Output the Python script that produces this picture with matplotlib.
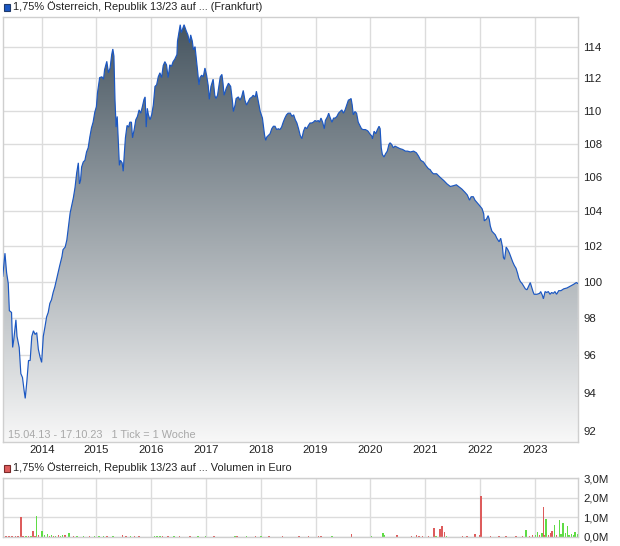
import numpy as np
import matplotlib
matplotlib.use("Agg")
import matplotlib.pyplot as plt
import matplotlib.dates as mdates
from matplotlib.patches import Rectangle
from matplotlib.ticker import FixedLocator, NullLocator, FixedFormatter
import datetime as dt

plt.rcParams['font.family'] = ['Liberation Sans', 'DejaVu Sans']

# ---------------- data (decimal years / prices) ----------------
price_t = [
    2013.29, 2013.33, 2013.36, 2013.39, 2013.41, 2013.45, 2013.47, 2013.49, 2013.53, 2013.55,
    2013.59, 2013.62, 2013.65, 2013.68, 2013.70, 2013.73, 2013.76, 2013.79, 2013.82, 2013.85,
    2013.88, 2013.91, 2013.94, 2013.97, 2014.00, 2014.03, 2014.06, 2014.09, 2014.12, 2014.15,
    2014.18, 2014.21, 2014.24, 2014.27, 2014.30, 2014.33, 2014.37, 2014.39, 2014.43, 2014.46,
    2014.49, 2014.52, 2014.55, 2014.58, 2014.61, 2014.64, 2014.67, 2014.69, 2014.71, 2014.73,
    2014.76, 2014.79, 2014.82, 2014.85, 2014.88, 2014.91, 2014.94, 2014.97, 2015.00, 2015.02,
    2015.05, 2015.06, 2015.10, 2015.13, 2015.15, 2015.19, 2015.22, 2015.25, 2015.28, 2015.30,
    2015.32, 2015.34, 2015.36, 2015.38, 2015.40, 2015.42, 2015.44, 2015.47, 2015.49, 2015.51,
    2015.53, 2015.56, 2015.59, 2015.61, 2015.64, 2015.66, 2015.69, 2015.72, 2015.75, 2015.78,
    2015.81, 2015.84, 2015.87, 2015.89, 2015.91, 2015.93, 2015.95, 2015.98, 2016.01, 2016.04,
    2016.07, 2016.10, 2016.13, 2016.16, 2016.19, 2016.22, 2016.25, 2016.28, 2016.31, 2016.34,
    2016.37, 2016.40, 2016.43, 2016.47, 2016.48, 2016.51, 2016.53, 2016.55, 2016.58, 2016.60,
    2016.64, 2016.67, 2016.70, 2016.72, 2016.75, 2016.77, 2016.80, 2016.83, 2016.85, 2016.87,
    2016.89, 2016.92, 2016.95, 2016.98, 2017.01, 2017.04, 2017.06, 2017.09, 2017.13, 2017.16,
    2017.18, 2017.21, 2017.26, 2017.29, 2017.31, 2017.33, 2017.37, 2017.41, 2017.45, 2017.48,
    2017.50, 2017.53, 2017.55, 2017.59, 2017.62, 2017.65, 2017.68, 2017.71, 2017.74, 2017.77,
    2017.80, 2017.84, 2017.86, 2017.90, 2017.92, 2017.94, 2017.97, 2017.99, 2018.03, 2018.05,
    2018.07, 2018.09, 2018.11, 2018.14, 2018.17, 2018.20, 2018.23, 2018.26, 2018.29, 2018.32,
    2018.35, 2018.38, 2018.41, 2018.44, 2018.47, 2018.50, 2018.54, 2018.57, 2018.60, 2018.63,
    2018.66, 2018.69, 2018.72, 2018.75, 2018.78, 2018.81, 2018.84, 2018.87, 2018.90, 2018.93,
    2018.96, 2018.99, 2019.02, 2019.05, 2019.07, 2019.10, 2019.13, 2019.16, 2019.18, 2019.22,
    2019.24, 2019.27, 2019.30, 2019.33, 2019.36, 2019.39, 2019.42, 2019.45, 2019.48, 2019.51,
    2019.54, 2019.57, 2019.60, 2019.63, 2019.65, 2019.67, 2019.69, 2019.72, 2019.75, 2019.78,
    2019.81, 2019.84, 2019.87, 2019.91, 2019.94, 2019.96, 2019.99, 2020.03, 2020.04, 2020.07,
    2020.10, 2020.13, 2020.16, 2020.18, 2020.20, 2020.22, 2020.25, 2020.28, 2020.31, 2020.34,
    2020.36, 2020.39, 2020.42, 2020.45, 2020.48, 2020.51, 2020.54, 2020.59, 2020.64, 2020.68,
    2020.73, 2020.79, 2020.84, 2020.88, 2020.92, 2020.97, 2021.01, 2021.06, 2021.09, 2021.12,
    2021.15, 2021.21, 2021.27, 2021.34, 2021.40, 2021.46, 2021.52, 2021.57, 2021.61, 2021.67,
    2021.73, 2021.77, 2021.81, 2021.84, 2021.88, 2021.91, 2021.95, 2021.99, 2022.04, 2022.07,
    2022.08, 2022.12, 2022.15, 2022.17, 2022.19, 2022.22, 2022.25, 2022.28, 2022.31, 2022.35,
    2022.38, 2022.41, 2022.43, 2022.45, 2022.48, 2022.51, 2022.54, 2022.57, 2022.60, 2022.63,
    2022.66, 2022.69, 2022.71, 2022.74, 2022.77, 2022.80, 2022.83, 2022.86, 2022.89, 2022.92,
    2022.94, 2022.97, 2022.99, 2023.04, 2023.09, 2023.11, 2023.14, 2023.16, 2023.19, 2023.22,
    2023.25, 2023.28, 2023.31, 2023.34, 2023.37, 2023.40, 2023.44, 2023.48, 2023.53, 2023.59,
    2023.65, 2023.71, 2023.76, 2023.79,
]
price_v = [
    100.3, 101.6, 100.5, 99.9, 98.4, 98.3, 96.4, 96.8, 97.9, 97.0,
    96.4, 95.0, 94.8, 94.1, 93.7, 94.6, 95.7, 95.7, 97.0, 97.3,
    97.1, 97.2, 96.3, 95.9, 95.6, 97.0, 97.5, 98.05, 98.3, 98.8,
    99.0, 99.4, 99.7, 100.1, 100.5, 100.9, 101.4, 101.8, 101.95, 102.35,
    103.1, 103.9, 104.35, 104.8, 105.4, 106.25, 106.85, 105.6, 105.8, 106.6,
    106.9, 107.0, 107.5, 107.75, 108.4, 108.95, 109.3, 109.9, 110.25, 111.1,
    111.8, 112.05, 112.1, 111.95, 112.55, 113.07, 112.35, 112.65, 113.5, 113.85,
    113.4, 110.65, 109.0, 109.65, 108.2, 106.7, 107.0, 106.85, 106.35, 107.4,
    108.35, 109.1, 109.0, 109.3, 109.3, 108.35, 108.85, 109.45, 109.65, 110.05,
    109.85, 110.25, 110.7, 110.85, 109.0, 110.15, 109.75, 109.45, 109.75, 110.35,
    111.5, 111.6, 112.1, 112.35, 112.05, 112.8, 113.05, 112.85, 112.05, 112.85,
    112.75, 113.05, 113.2, 113.5, 114.35, 115.0, 115.4, 114.9, 115.2, 115.4,
    115.0, 114.75, 114.25, 114.75, 114.35, 113.8, 114.0, 113.0, 112.35, 111.6,
    112.05, 112.2, 112.1, 112.65, 112.2, 111.55, 110.7, 111.5, 111.95, 110.95,
    110.75, 110.95, 112.1, 112.25, 111.7, 110.95, 111.4, 111.7, 111.5, 110.65,
    109.95, 110.35, 110.75, 110.85, 110.65, 110.85, 111.25, 110.65, 110.35, 110.55,
    110.75, 110.85, 110.95, 110.85, 111.2, 110.85, 110.35, 109.95, 109.55, 109.0,
    108.5, 108.2, 108.4, 108.5, 108.6, 108.9, 109.05, 109.05, 108.85, 108.9,
    108.85, 109.0, 109.3, 109.55, 109.75, 109.85, 109.85, 109.65, 109.75, 109.45,
    109.25, 108.9, 108.5, 108.3, 108.75, 109.0, 108.9, 109.1, 109.25, 109.25,
    109.3, 109.4, 109.35, 109.4, 109.3, 109.55, 109.3, 108.9, 109.4, 109.65,
    109.85, 109.55, 109.3, 109.55, 109.55, 109.65, 109.85, 109.95, 110.05, 109.85,
    110.05, 110.35, 110.65, 110.7, 110.75, 110.35, 109.75, 109.95, 109.85, 109.3,
    109.1, 108.9, 108.85, 108.85, 108.8, 108.75, 108.6, 108.45, 108.3, 108.75,
    108.6, 108.85, 109.05, 108.9, 107.75, 107.35, 107.2, 107.4, 107.55, 107.95,
    108.05, 107.95, 107.75, 107.85, 107.8, 107.75, 107.7, 107.65, 107.55, 107.55,
    107.5, 107.55, 107.45, 107.25, 107.0, 106.9, 106.7, 106.5, 106.45, 106.3,
    106.2, 106.2, 106.0, 105.8, 105.6, 105.45, 105.5, 105.55, 105.45, 105.3,
    105.1, 104.95, 104.65, 104.85, 104.85, 104.65, 104.5, 104.35, 104.15, 103.85,
    103.45, 103.55, 103.75, 103.55, 103.15, 102.85, 102.75, 102.65, 102.45, 102.25,
    102.45, 102.0, 101.35, 101.25, 101.95, 101.8, 101.6, 101.35, 101.1, 100.9,
    100.75, 100.45, 100.2, 100.0, 99.9, 99.75, 99.6, 99.55, 99.75, 99.95,
    99.75, 99.45, 99.3, 99.3, 99.35, 99.45, 99.25, 99.05, 99.45, 99.4,
    99.45, 99.3, 99.4, 99.35, 99.45, 99.3, 99.5, 99.5, 99.6, 99.65,
    99.75, 99.85, 99.95, 99.9,
]

vol_t = [
    2013.30, 2013.35, 2013.40, 2013.46, 2013.52, 2013.57, 2013.62, 2013.66, 2013.71, 2013.76,
    2013.81, 2013.84, 2013.88, 2013.91, 2013.94, 2014.01, 2014.05, 2014.11, 2014.14, 2014.18,
    2014.22, 2014.25, 2014.31, 2014.34, 2014.38, 2014.43, 2014.50, 2014.58, 2014.65, 2014.76,
    2014.87, 2014.97, 2015.05, 2015.13, 2015.19, 2015.30, 2015.48, 2015.54, 2015.62, 2015.70,
    2015.78, 2016.06, 2016.11, 2016.16, 2016.21, 2016.31, 2016.42, 2016.52, 2016.71, 2016.85,
    2016.99, 2017.15, 2017.53, 2017.57, 2017.74, 2017.90, 2018.00, 2018.15, 2018.40, 2018.70,
    2018.87, 2019.05, 2019.10, 2019.30, 2019.66, 2020.02, 2020.23, 2020.26, 2020.49, 2020.75,
    2020.84, 2020.89, 2020.95, 2021.06, 2021.16, 2021.20, 2021.27, 2021.31, 2021.35, 2021.39,
    2021.68, 2021.76, 2021.91, 2021.99, 2022.02, 2022.19, 2022.35, 2022.48, 2022.66, 2022.78,
    2022.84, 2022.91, 2022.96, 2023.02, 2023.05, 2023.09, 2023.13, 2023.16, 2023.19, 2023.21,
    2023.25, 2023.29, 2023.32, 2023.36, 2023.40, 2023.45, 2023.48, 2023.52, 2023.56, 2023.60,
    2023.63, 2023.67, 2023.71, 2023.74, 2023.78,
]
vol_m = [
    0.05, 0.07, 0.04, 0.04, 0.03, 0.04, 1.00, 0.04, 0.03, 0.04,
    0.05, 0.29, 0.05, 1.05, 0.08, 0.30, 0.08, 0.14, 0.06, 0.12,
    0.06, 0.05, 0.12, 0.05, 0.12, 0.12, 0.18, 0.04, 0.03, 0.03,
    0.04, 0.03, 0.04, 0.05, 0.03, 0.04, 0.12, 0.06, 0.04, 0.04,
    0.03, 0.04, 0.03, 0.05, 0.04, 0.04, 0.03, 0.04, 0.03, 0.03,
    0.03, 0.04, 0.07, 0.05, 0.06, 0.04, 0.04, 0.03, 0.05, 0.07,
    0.04, 0.05, 0.05, 0.03, 0.14, 0.03, 0.20, 0.12, 0.09, 0.03,
    0.09, 0.06, 0.05, 0.05, 0.45, 0.05, 0.40, 0.55, 0.26, 0.06,
    0.05, 0.05, 0.15, 0.12, 2.08, 0.04, 0.04, 0.04, 0.05, 0.06,
    0.34, 0.06, 0.10, 0.08, 0.26, 0.10, 0.20, 1.53, 0.12, 0.94,
    0.12, 0.20, 0.30, 0.63, 0.10, 0.88, 0.15, 0.69, 0.20, 0.55,
    0.12, 0.15, 0.12, 0.26, 0.15,
]
vol_dir = [
    'r', 'r', 'r', 'r', 'r', 'r', 'r', 'r', 'g', 'r',
    'g', 'r', 'r', 'g', 'r', 'g', 'g', 'g', 'r', 'g',
    'r', 'g', 'r', 'g', 'g', 'r', 'g', 'r', 'g', 'g',
    'r', 'g', 'g', 'g', 'r', 'g', 'r', 'r', 'g', 'r',
    'r', 'g', 'g', 'g', 'r', 'r', 'g', 'r', 'r', 'g',
    'g', 'r', 'g', 'r', 'g', 'r', 'g', 'r', 'r', 'r',
    'r', 'r', 'r', 'g', 'r', 'g', 'g', 'g', 'r', 'r',
    'r', 'r', 'r', 'r', 'r', 'g', 'r', 'r', 'r', 'g',
    'r', 'r', 'r', 'r', 'r', 'r', 'r', 'r', 'r', 'r',
    'g', 'r', 'r', 'g', 'g', 'r', 'g', 'r', 'r', 'g',
    'r', 'r', 'r', 'g', 'r', 'g', 'g', 'g', 'g', 'g',
    'g', 'g', 'g', 'g', 'g',
]

year_ticks = list(range(2014, 2024))
price_ticks = [92, 94, 96, 98, 100, 102, 104, 106, 108, 110, 112, 114]
vol_ticks = [0, 1, 2, 3]
vol_tick_labels = ["0,0M", "1,0M", "2,0M", "3,0M"]
range_start = "2013-04-15"
range_end = "2023-10-17"
title_main = "1,75% Österreich, Republik 13/23 auf ... (Frankfurt)"
title_vol = "1,75% Österreich, Republik 13/23 auf ... Volumen in Euro"
note = "15.04.13 - 17.10.23   1 Tick = 1 Woche"


def yr2num(y):
    y0 = int(np.floor(y))
    s = dt.datetime(y0, 1, 1)
    e = dt.datetime(y0 + 1, 1, 1)
    return mdates.date2num(s + (e - s) * (y - y0))


px = np.array([yr2num(t) for t in price_t])
pv = np.array(price_v)
vx = np.array([yr2num(t) for t in vol_t])
vv = np.array(vol_m)
xlo = mdates.date2num(dt.datetime.fromisoformat(range_start))
xhi = mdates.date2num(dt.datetime.fromisoformat(range_end))
xticks = [mdates.date2num(dt.datetime(y, 1, 1)) for y in year_ticks]

W, H = 620, 546
fig = plt.figure(figsize=(W / 100, H / 100), dpi=100)
fig.patch.set_facecolor('white')


def fx(p):
    return p / W


def fy(p):
    return 1 - p / H


grid_c = '#dcdcdc'
spine_c = '#cfcfcf'
txt_c = '#222222'

# ---------------- main panel ----------------
L, R = 2.5, 578
T1, B1 = 17, 442
ax = fig.add_axes([fx(L), fy(B1), fx(R - L), (B1 - T1) / H])
ax.set_yscale('log')
ax.set_xlim(xlo, xhi)
ylo, yhi = 91.45, 115.9
ax.set_ylim(ylo, yhi)

ax.set_axisbelow(True)
ax.grid(True, color=grid_c, lw=1.0, zorder=0)

poly = ax.fill_between(px, pv, 80, facecolor='none', edgecolor='none')
top = np.array([68, 83, 94]) / 255.0
bot = np.array([248, 248, 248]) / 255.0
g = np.linspace(0, 1, 512)[:, None, None]
img = top + (bot - top) * g
img = np.repeat(img, 2, axis=1)
im = ax.imshow(img, extent=[0, 1, 0, 1], transform=ax.transAxes,
               aspect='auto', zorder=1, interpolation='bilinear')
im.set_clip_path(poly.get_paths()[0], transform=ax.transData)
ax.plot(px, pv, color='#1b57c2', lw=0.85, zorder=3, solid_joinstyle='miter')
ax.set_xlim(xlo, xhi)
ax.set_ylim(ylo, yhi)

ax.yaxis.tick_right()
ax.yaxis.set_major_locator(FixedLocator(price_ticks))
ax.yaxis.set_major_formatter(FixedFormatter([str(v) for v in price_ticks]))
ax.yaxis.set_minor_locator(NullLocator())
ax.xaxis.set_major_locator(FixedLocator(xticks))
ax.xaxis.set_major_formatter(FixedFormatter([str(y) for y in year_ticks]))
ax.xaxis.set_minor_locator(NullLocator())
ax.tick_params(axis='both', length=0, labelsize=8.2, colors=txt_c)
ax.tick_params(axis='y', pad=4)
ax.tick_params(axis='x', pad=2.5)
for s in ax.spines.values():
    s.set_color(spine_c)
    s.set_linewidth(1.0)

ax.text(fx(8), fy(435), note, transform=fig.transFigure, fontsize=7.8,
        color='#a8a8a8', va='center', ha='left')

# legend main
fig.patches.append(Rectangle((fx(3.5), fy(10.5)), 6.5 / W, 6.5 / H,
                             transform=fig.transFigure, facecolor='#1b57c2',
                             edgecolor='#203a6a', lw=0.8))
fig.text(fx(13), fy(7), title_main, fontsize=7.9, color=txt_c,
         va='center', ha='left')

# ---------------- volume panel ----------------
T2, B2 = 478, 537
ax2 = fig.add_axes([fx(L), fy(B2), fx(R - L), (B2 - T2) / H])
ax2.set_axisbelow(True)
ax2.grid(True, color=grid_c, lw=1.0, zorder=0)
cols = ['#dd5c5c' if d == 'r' else '#5fdc45' for d in vol_dir]
ax2.bar(vx, vv, width=10, color=cols, zorder=2, linewidth=0, antialiased=False)
ax2.set_xlim(xlo, xhi)
ax2.set_ylim(0, 3.0)
ax2.yaxis.tick_right()
ax2.yaxis.set_major_locator(FixedLocator(vol_ticks))
ax2.yaxis.set_major_formatter(FixedFormatter(vol_tick_labels))
ax2.xaxis.set_major_locator(FixedLocator(xticks))
ax2.xaxis.set_major_formatter(FixedFormatter([''] * len(xticks)))
ax2.tick_params(axis='both', length=0, labelsize=8.2, colors=txt_c)
ax2.tick_params(axis='y', pad=4)
for s in ax2.spines.values():
    s.set_color(spine_c)
    s.set_linewidth(1.0)

fig.patches.append(Rectangle((fx(3.5), fy(471.5)), 6.5 / W, 6.5 / H,
                             transform=fig.transFigure, facecolor='#dd5c5c',
                             edgecolor='#7a2a2a', lw=0.8))
fig.text(fx(13), fy(468), title_vol, fontsize=7.9, color=txt_c,
         va='center', ha='left')

fig.savefig('out.png', dpi=100, facecolor='white')
